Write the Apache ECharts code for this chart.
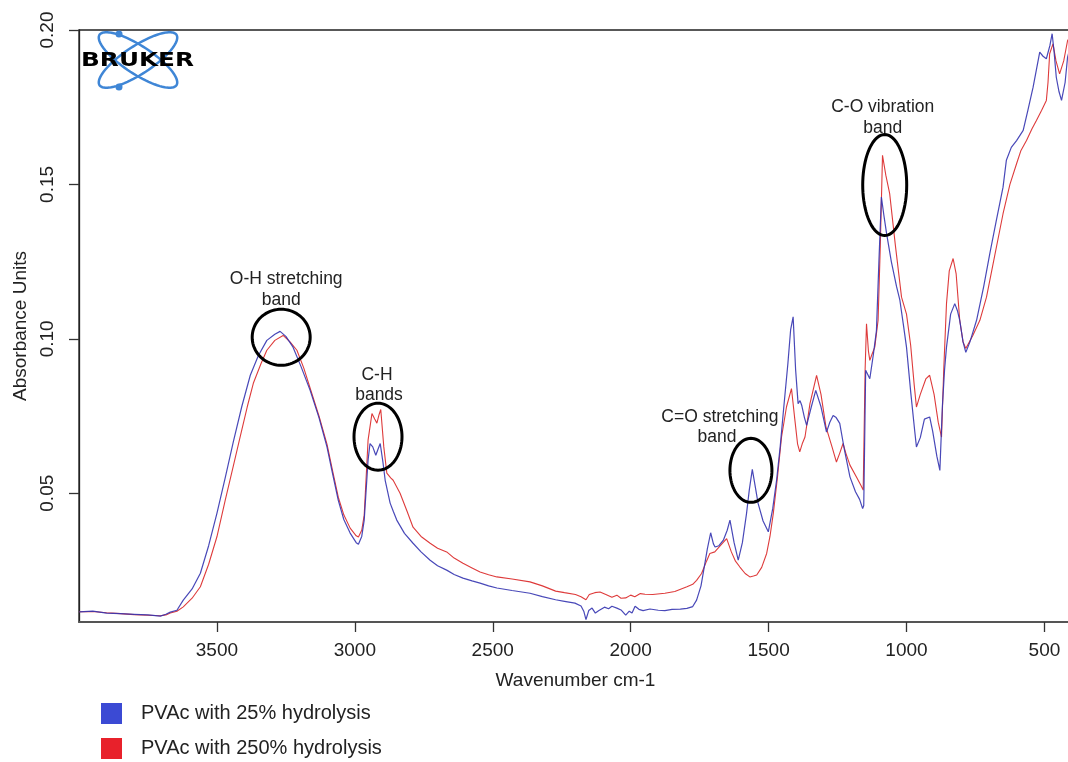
<!DOCTYPE html>
<html>
<head>
<meta charset="utf-8">
<script src="https://cdn.jsdelivr.net/npm/echarts@6/dist/echarts.min.js"></script>
<style>
html,body{margin:0;padding:0;background:#fff;}
#chart{width:1068px;height:762px;}
</style>
</head>
<body>
<div id="chart"></div>
<script>
// ---- data ----
var xTicks = [3500, 3000, 2500, 2000, 1500, 1000, 500];
var yTicks = [0.05, 0.10, 0.15, 0.20];
var seriesNames = ['PVAc with 25% hydrolysis', 'PVAc with 250% hydrolysis'];

var blueWave = [3999,3950,3900,3850,3800,3750,3705,3685,3669,3645,3622,3590,3560,3530,3500,3470,3441,3410,3379,3350,3319,3290,3271,3250,3224,3195,3162,3130,3101,3080,3060,3040,3017,2995,2987,2975,2966,2952,2945,2935,2924,2915,2908,2898,2890,2872,2860,2848,2820,2789,2760,2727,2700,2667,2640,2608,2575,2546,2515,2485,2430,2365,2320,2272,2240,2202,2180,2170,2162,2152,2140,2128,2115,2095,2080,2068,2050,2035,2018,2005,1995,1984,1970,1955,1930,1900,1876,1850,1820,1796,1775,1761,1756,1745,1737,1722,1710,1700,1694,1680,1664,1650,1640,1625,1610,1595,1580,1570,1559,1548,1538,1520,1501,1485,1471,1458,1447,1430,1420,1411,1402,1393,1386,1380,1370,1362,1345,1329,1310,1290,1278,1266,1255,1242,1225,1205,1185,1170,1159,1155,1148,1133,1120,1109,1100,1091,1082,1072,1055,1036,1024,1012,1000,985,970,964,950,935,916,905,890,879,870,862,855,840,825,815,807,795,785,770,746,720,698,675,650,638,620,601,577,560,541,517,505,493,480,472,465,457,447,438,425,416,405];
var blueAbs = [0.0116,0.0118,0.0112,0.0110,0.0108,0.0106,0.0102,0.0108,0.0115,0.0121,0.0154,0.0190,0.0241,0.0330,0.0435,0.0550,0.0665,0.0780,0.0882,0.0945,0.0995,0.1015,0.1024,0.1008,0.0973,0.0910,0.0833,0.0745,0.0650,0.0560,0.0477,0.0415,0.0371,0.0340,0.0335,0.0360,0.0413,0.0607,0.0661,0.0650,0.0623,0.0645,0.0661,0.0600,0.0542,0.0468,0.0440,0.0413,0.0370,0.0338,0.0310,0.0283,0.0265,0.0251,0.0237,0.0225,0.0216,0.0209,0.0200,0.0193,0.0185,0.0176,0.0165,0.0155,0.0150,0.0144,0.0135,0.0118,0.0091,0.0120,0.0128,0.0112,0.0120,0.0131,0.0126,0.0134,0.0128,0.0122,0.0105,0.0118,0.0112,0.0134,0.0124,0.0120,0.0125,0.0121,0.0120,0.0124,0.0125,0.0127,0.0133,0.0154,0.0160,0.0200,0.0241,0.0320,0.0372,0.0336,0.0326,0.0330,0.0348,0.0380,0.0413,0.0340,0.0283,0.0340,0.0434,0.0510,0.0577,0.0520,0.0467,0.0410,0.0375,0.0450,0.0542,0.0650,0.0758,0.0920,0.1030,0.1071,0.0900,0.0790,0.0800,0.0785,0.0745,0.0720,0.0780,0.0833,0.0780,0.0698,0.0730,0.0752,0.0745,0.0726,0.0640,0.0553,0.0505,0.0480,0.0450,0.0460,0.0898,0.0871,0.0950,0.1027,0.1250,0.1459,0.1400,0.1340,0.1250,0.1169,0.1125,0.1050,0.0973,0.0830,0.0700,0.0650,0.0680,0.0740,0.0747,0.0700,0.0620,0.0574,0.0780,0.0900,0.0973,0.1080,0.1114,0.1090,0.1060,0.0990,0.0956,0.0990,0.1060,0.1170,0.1276,0.1380,0.1491,0.1578,0.1620,0.1642,0.1675,0.1740,0.1815,0.1928,0.1915,0.1907,0.1950,0.1988,0.1930,0.1847,0.1800,0.1772,0.1830,0.1912,0.1950];

var redWave = [3999,3950,3900,3850,3800,3750,3705,3685,3669,3645,3622,3590,3560,3530,3500,3470,3440,3416,3390,3368,3340,3319,3290,3260,3235,3210,3185,3162,3130,3101,3080,3060,3040,3017,2995,2987,2975,2966,2952,2938,2928,2920,2912,2906,2895,2884,2870,2861,2836,2810,2789,2760,2727,2700,2667,2640,2608,2575,2546,2515,2485,2430,2365,2320,2272,2240,2200,2180,2162,2150,2130,2111,2090,2068,2050,2035,2018,2000,1985,1965,1948,1920,1876,1840,1796,1775,1761,1743,1725,1713,1695,1675,1652,1635,1620,1604,1585,1568,1555,1543,1525,1507,1495,1483,1468,1453,1435,1417,1405,1395,1387,1378,1368,1350,1326,1310,1292,1270,1254,1242,1230,1220,1205,1180,1165,1157,1150,1145,1138,1133,1125,1115,1103,1095,1087,1075,1061,1040,1018,1000,985,972,964,950,930,916,900,885,873,865,855,845,831,820,807,795,785,760,734,710,680,650,625,601,585,565,545,529,510,493,487,481,469,458,445,430,416,405];
var redAbs = [0.0116,0.0117,0.0113,0.0110,0.0107,0.0105,0.0103,0.0106,0.0112,0.0118,0.0132,0.0160,0.0197,0.0270,0.0359,0.0477,0.0590,0.0682,0.0780,0.0856,0.0920,0.0963,0.0995,0.1011,0.0990,0.0963,0.0905,0.0840,0.0750,0.0659,0.0570,0.0487,0.0430,0.0387,0.0362,0.0358,0.0380,0.0429,0.0672,0.0758,0.0740,0.0727,0.0755,0.0771,0.0650,0.0565,0.0550,0.0542,0.0500,0.0440,0.0390,0.0360,0.0338,0.0322,0.0310,0.0290,0.0273,0.0258,0.0245,0.0236,0.0229,0.0222,0.0213,0.0200,0.0183,0.0178,0.0172,0.0165,0.0155,0.0172,0.0178,0.0180,0.0172,0.0163,0.0170,0.0160,0.0161,0.0170,0.0165,0.0175,0.0173,0.0172,0.0176,0.0182,0.0197,0.0205,0.0218,0.0240,0.0280,0.0305,0.0310,0.0330,0.0353,0.0310,0.0280,0.0261,0.0240,0.0229,0.0232,0.0235,0.0260,0.0305,0.0360,0.0434,0.0550,0.0682,0.0780,0.0839,0.0740,0.0660,0.0634,0.0660,0.0682,0.0790,0.0882,0.0820,0.0715,0.0650,0.0601,0.0630,0.0661,0.0630,0.0591,0.0550,0.0525,0.0510,0.0900,0.1049,0.0960,0.0930,0.0950,0.0973,0.1060,0.1300,0.1594,0.1530,0.1470,0.1300,0.1135,0.1080,0.0980,0.0850,0.0779,0.0820,0.0870,0.0882,0.0820,0.0730,0.0682,0.0900,0.1114,0.1220,0.1260,0.1210,0.1060,0.0990,0.0969,0.1010,0.1060,0.1135,0.1270,0.1405,0.1500,0.1567,0.1610,0.1642,0.1680,0.1707,0.1740,0.1772,0.1830,0.1923,0.1955,0.1900,0.1858,0.1900,0.1966,0.1980];

// annotation labels and their anchor (wavenumber, absorbance)
var annotations = [
  {lines: ['O-H stretching', 'band'], x: 3267, y: 0.1005, rx: 29, ry: 28, t1: [5, -58], t2: [0, -37]},
  {lines: ['C-H', 'bands'], x: 2916, y: 0.0683, rx: 24, ry: 33.5, t1: [-1, -62], t2: [1, -42]},
  {lines: ['C=O stretching', 'band'], x: 1564, y: 0.0574, rx: 21, ry: 32, t1: [-31, -53], t2: [-34, -33]},
  {lines: ['C-O vibration', 'band'], x: 1079, y: 0.1498, rx: 22, ry: 50.5, t1: [-2, -78], t2: [-2, -57]}
];

function pairs(xs, ys){ var out=[]; for (var i=0;i<xs.length;i++) out.push([xs[i], ys[i]]); return out; }

var FONT = '"Liberation Sans", Arial, sans-serif';
var chart = echarts.init(document.getElementById('chart'), null, {renderer:'canvas'});

var legendCommon = {
  orient: 'vertical', left: 96, itemWidth: 21, itemHeight: 21, icon: 'rect',
  textStyle: {fontSize: 20, color: '#222', fontFamily: FONT, padding: [0, 0, 0, 14], lineHeight: 21}
};

var option = {
  animation: false,
  backgroundColor: '#ffffff',
  grid: {left: 79, top: 30, right: -4, bottom: 140, show: true, borderColor: '#222', borderWidth: 1.3, containLabel: false, outerBoundsMode: 'none'},
  xAxis: {
    type: 'value', inverse: true, min: 400, max: 4000,
    splitLine: {show: false},
    axisLine: {show: true, lineStyle: {color: '#555', width: 2}},
    axisTick: {show: true, length: 10, inside: false, customValues: xTicks, lineStyle: {color: '#333', width: 1.3}},
    axisLabel: {customValues: xTicks, margin: 19, fontSize: 19, color: '#222', fontFamily: FONT,
      formatter: function(v){ return String(v); }},
    name: 'Wavenumber cm-1', nameLocation: 'middle', nameGap: 49,
    nameTextStyle: {fontSize: 19, color: '#222', fontFamily: FONT}
  },
  yAxis: {
    type: 'value', min: 0.0083, max: 0.2,
    splitLine: {show: false},
    axisLine: {show: true, lineStyle: {color: '#222', width: 1.3}},
    axisTick: {show: true, length: 10, customValues: yTicks, lineStyle: {color: '#333', width: 1.3}},
    axisLabel: {customValues: yTicks, rotate: 90, margin: 22, fontSize: 19, color: '#222', fontFamily: FONT,
      formatter: function(v){ return v.toFixed(2); }},
    name: 'Absorbance Units', nameLocation: 'middle', nameGap: 47, nameRotate: 90,
    nameTextStyle: {fontSize: 19, color: '#222', fontFamily: FONT}
  },
  legend: [
    Object.assign({}, legendCommon, {top: 698, data: [{name: seriesNames[0], itemStyle: {color: '#3b4ad4'}}]}),
    Object.assign({}, legendCommon, {top: 733, data: [{name: seriesNames[1], itemStyle: {color: '#e8212b'}}]})
  ],
  series: [
    {name: seriesNames[1], type: 'line', data: pairs(redWave, redAbs), showSymbol: false, symbol: 'none',
      lineStyle: {color: '#de3b3b', width: 1.1}, itemStyle: {color: '#e8212b'}, z: 2},
    {name: seriesNames[0], type: 'line', data: pairs(blueWave, blueAbs), showSymbol: false, symbol: 'none',
      lineStyle: {color: '#3434b0', width: 1.2, opacity: 0.9}, itemStyle: {color: '#3b4ad4'}, z: 3}
  ]
};
chart.setOption(option);

function ellipsePts(cx, cy, rx, ry, rot){
  var pts = [], n = 80, c = Math.cos(rot||0), s = Math.sin(rot||0);
  for (var i=0;i<n;i++){
    var t = i/n*Math.PI*2, ex = rx*Math.cos(t), ey = ry*Math.sin(t);
    pts.push([cx + ex*c - ey*s, cy + ex*s + ey*c]);
  }
  return pts;
}

var elements = [];
annotations.forEach(function(a){
  var p = chart.convertToPixel({gridIndex: 0}, [a.x, a.y]);
  elements.push({type: 'polygon', shape: {points: ellipsePts(p[0], p[1], a.rx, a.ry, 0)},
    style: {fill: 'none', stroke: '#000', lineWidth: 3}, z: 100});
  elements.push({type: 'text', x: p[0] + a.t1[0], y: p[1] + a.t1[1],
    style: {text: a.lines[0], fill: '#222', font: '17.5px ' + FONT, textAlign: 'center', textVerticalAlign: 'middle'}, z: 100});
  elements.push({type: 'text', x: p[0] + a.t2[0], y: p[1] + a.t2[1],
    style: {text: a.lines[1], fill: '#222', font: '17.5px ' + FONT, textAlign: 'center', textVerticalAlign: 'middle'}, z: 100});
});

// Bruker logo
var logoBlue = '#3f86d6';
elements.push({type: 'polygon', shape: {points: ellipsePts(138, 60, 46, 14, 0.58)}, style: {fill: 'none', stroke: logoBlue, lineWidth: 2.5}, z: 90});
elements.push({type: 'polygon', shape: {points: ellipsePts(138, 60, 46, 14, -0.58)}, style: {fill: 'none', stroke: logoBlue, lineWidth: 2.5}, z: 90});
elements.push({type: 'circle', shape: {cx: 119, cy: 34, r: 3.5}, style: {fill: logoBlue}, z: 91});
elements.push({type: 'circle', shape: {cx: 119, cy: 87, r: 3.5}, style: {fill: logoBlue}, z: 91});
elements.push({type: 'text', x: 137.5, y: 61.5, scaleX: 1.3,
  style: {text: 'BRUKER', fill: '#000', font: 'bold 19px "DejaVu Sans", sans-serif', textAlign: 'center', textVerticalAlign: 'middle'}, z: 92});

chart.setOption({graphic: {elements: elements}});
</script>
</body>
</html>
